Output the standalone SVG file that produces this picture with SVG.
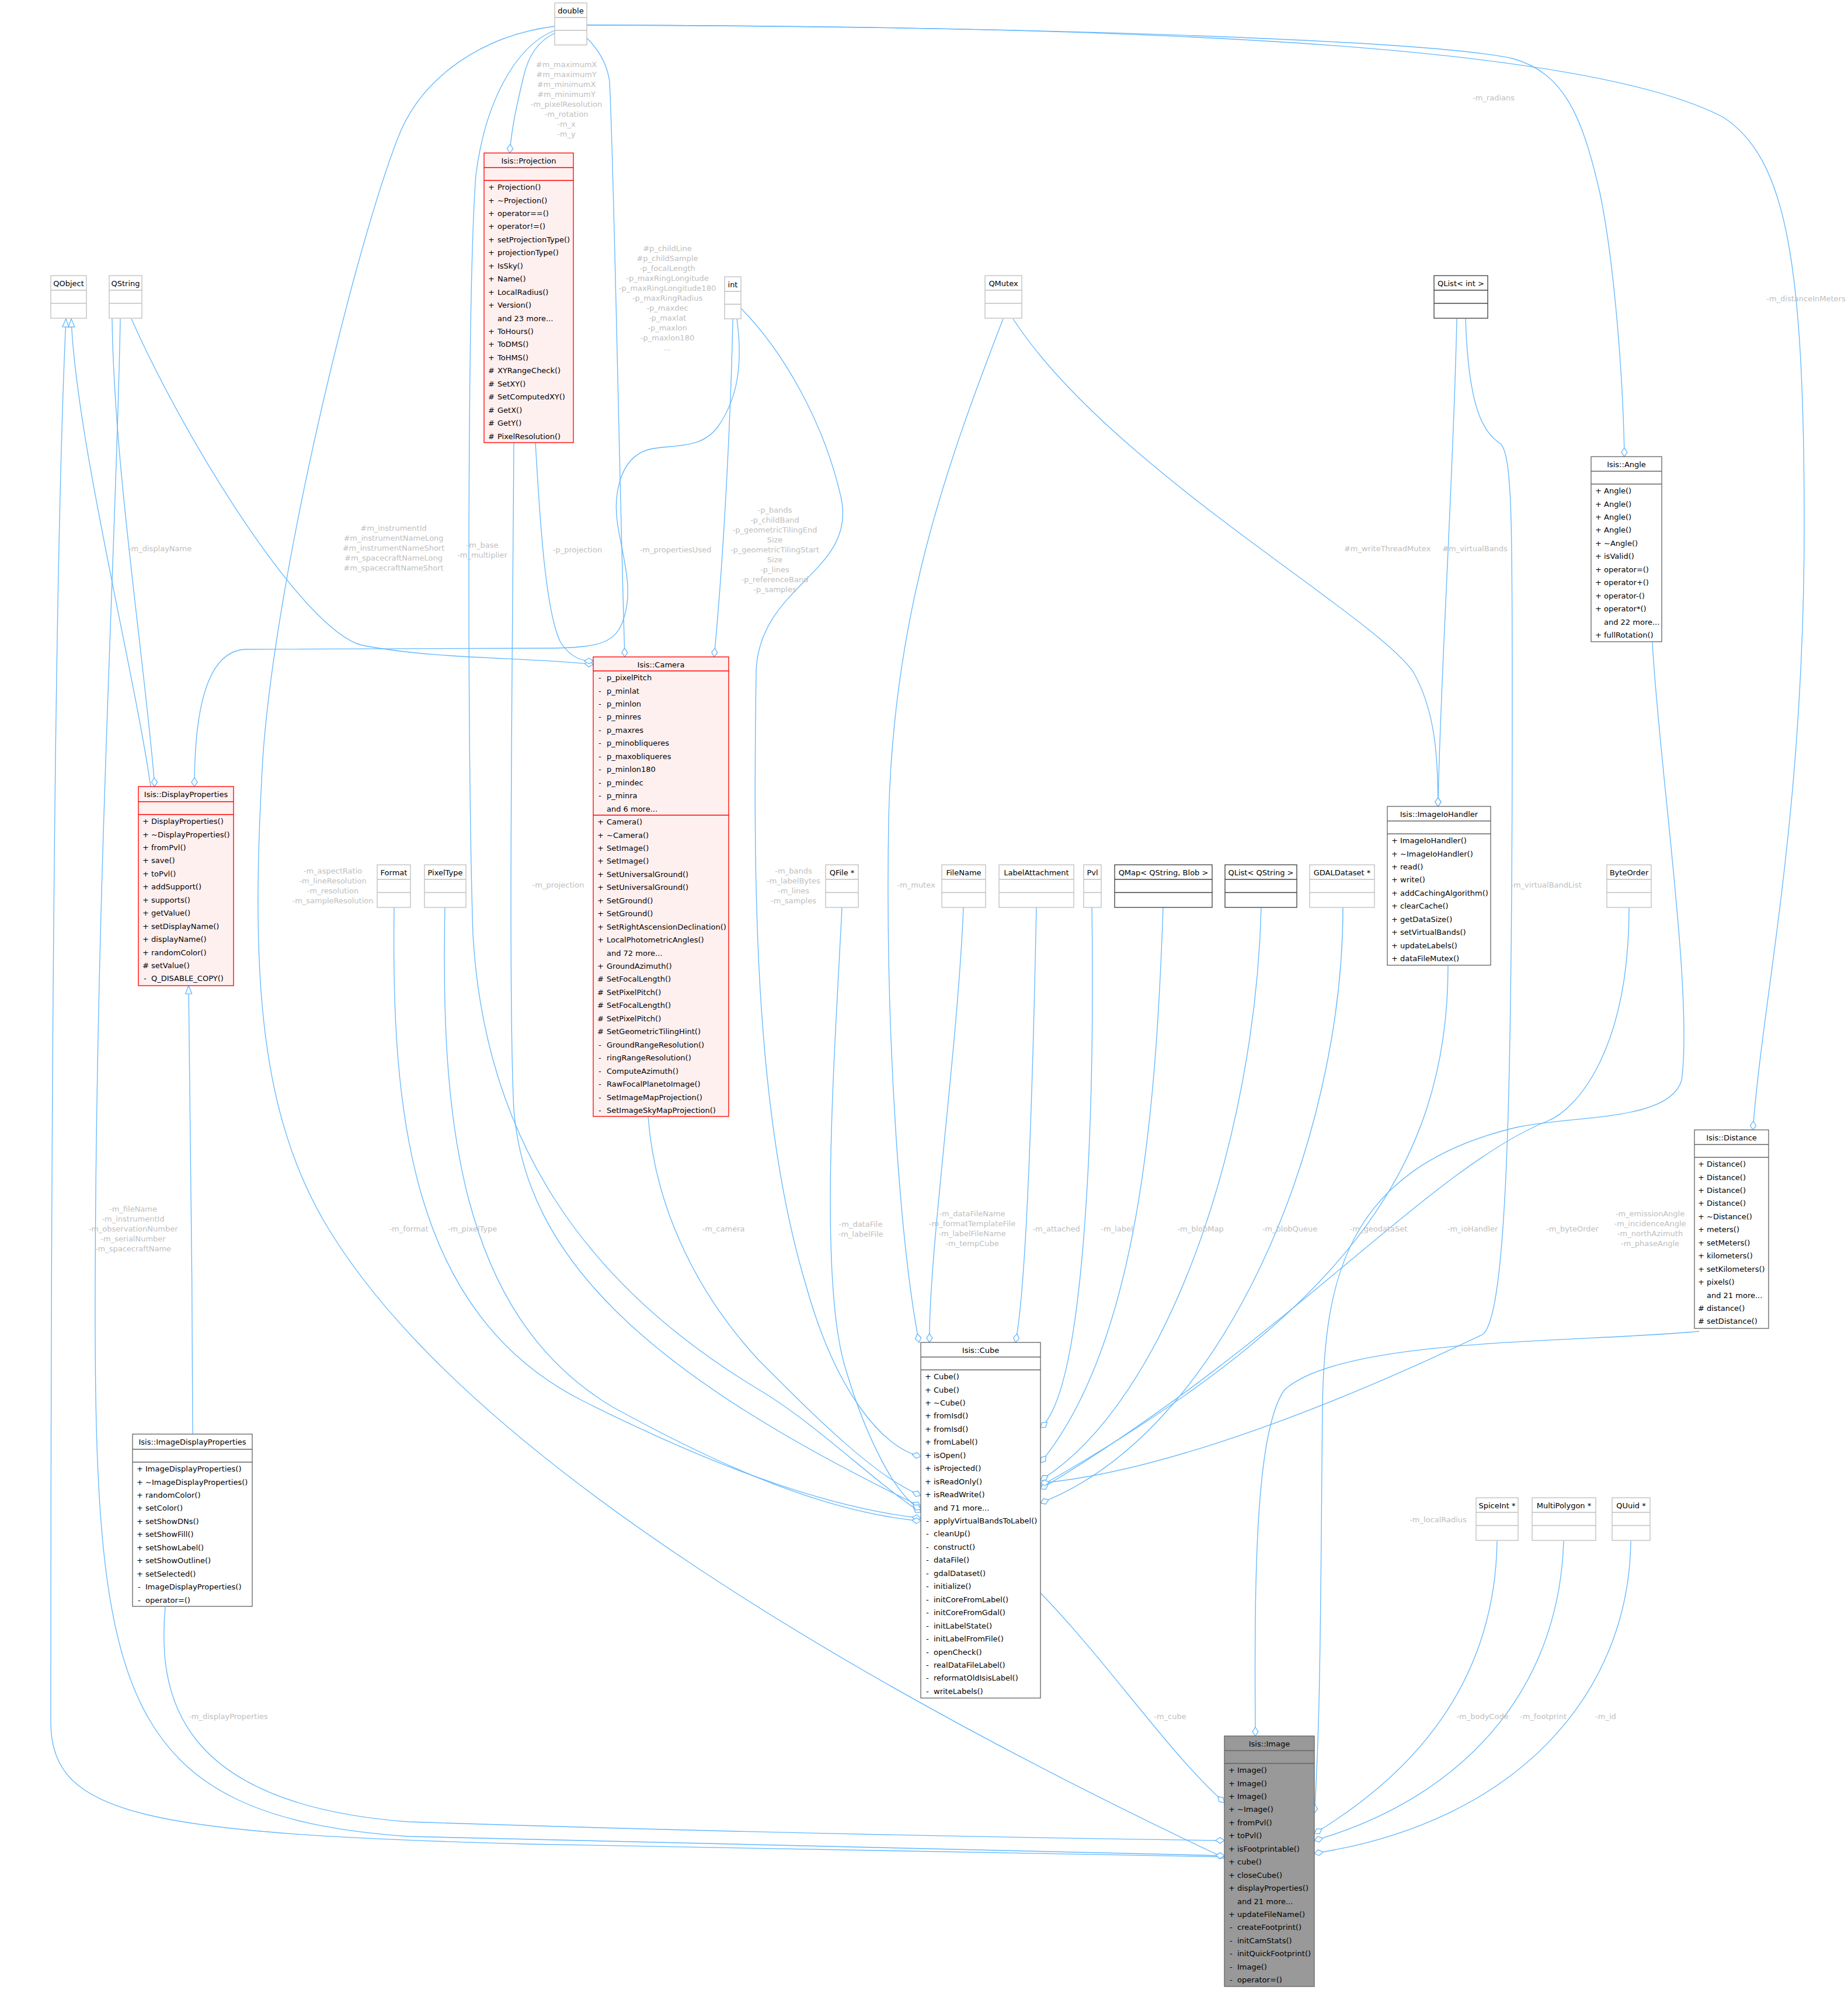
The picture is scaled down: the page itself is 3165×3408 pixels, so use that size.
<svg xmlns="http://www.w3.org/2000/svg" width="3165" height="3408" viewBox="0 0 3165 3408">
<style>
.t{font-family:"DejaVu Sans",Verdana,sans-serif;font-size:13px;fill:#000}
.h{text-anchor:middle}
.l{font-family:"DejaVu Sans",Verdana,sans-serif;font-size:13px;fill:#bebebe;text-anchor:middle}
.e{fill:none;stroke:#63b8ff;stroke-width:1.33}
.d{marker-end:url(#dm)}
.i{marker-start:url(#tr)}
.ext{fill:#fff;stroke:#bfbfbf;stroke-width:1.33}
.tpl{fill:#fff;stroke:#404040;stroke-width:1.33}
.doc{fill:#fff;stroke:#666;stroke-width:1.33}
.red{fill:#fff0f0;stroke:#f00;stroke-width:1.33}
.img{fill:#999;stroke:#666;stroke-width:1.33}
</style>
<defs>
<marker id="dm" markerUnits="userSpaceOnUse" markerWidth="17" markerHeight="13" viewBox="0 0 17 13" refX="16" refY="6.5" orient="auto"><path d="M1,6.5 L8.5,1.5 L16,6.5 L8.5,11.5 Z" fill="#fff" stroke="#63b8ff" stroke-width="1.33"/></marker>
<marker id="tr" markerUnits="userSpaceOnUse" markerWidth="16" markerHeight="14" viewBox="0 0 16 14" refX="15" refY="7" orient="auto-start-reverse"><path d="M1,1.5 L15,7 L1,12.5 Z" fill="#fff" stroke="#63b8ff" stroke-width="1.33"/></marker>
</defs>
<rect width="3165" height="3408" fill="#fff"/>

<g id="edges">
<path class="e d" d="M950,57 C922,70 905,95 897,130 C885,180 876,220 873,262"/>
<path class="e d" d="M1005,65 C1025,85 1040,110 1044,140 C1052,300 1060,800 1070,1125"/>
<path class="e d" d="M1005,43 C1800,45 2450,70 2590,100 C2680,125 2710,200 2740,330 C2765,450 2780,650 2782,782"/>
<path class="e d" d="M1005,43 C1900,45 2700,70 2950,200 C3060,270 3090,450 3090,900 C3090,1400 3020,1700 3002,1935"/>
<path class="e d" d="M950,45 C830,60 720,130 680,240 C600,450 470,1000 450,1300 C430,1650 440,1900 560,2100 C800,2500 1500,2900 2097,3182"/>
<path class="e d" d="M950,52 C880,80 830,180 815,300 C800,500 800,1300 810,1600 C830,1950 1000,2200 1300,2380 C1400,2440 1500,2540 1577,2590"/>
<path class="e i" d="M122,546 C130,750 230,1150 258,1347"/>
<path class="e i" d="M113,546 C92,1000 87,2000 87,2950 C87,3110 250,3140 900,3158 L2097,3180"/>
<path class="e d" d="M192,546 C195,800 250,1150 265,1347"/>
<path class="e d" d="M206,546 C200,900 165,1500 163,2200 C161,2900 200,3110 700,3145 L2097,3178"/>
<path class="e d" d="M225,546 C320,760 520,1080 620,1105 C750,1130 900,1125 1016,1138"/>
<path class="e d" d="M1255,546 C1252,700 1240,950 1223,1125"/>
<path class="e d" d="M1262,546 C1272,620 1265,680 1230,730 C1200,772 1150,760 1110,770 C1060,785 1050,850 1058,900 C1068,960 1085,1010 1068,1060 C1055,1100 1030,1108 950,1110 L420,1112 C360,1115 333,1200 333,1347"/>
<path class="e d" d="M1269,528 C1340,600 1410,720 1440,850 C1470,980 1300,1000 1295,1150 C1290,1500 1290,1900 1380,2200 C1430,2380 1510,2480 1577,2494"/>
<path class="e d" d="M917,758 C925,900 935,1050 960,1100 C980,1130 1000,1132 1016,1132"/>
<path class="e d" d="M880,758 C878,1100 870,1700 880,1900 C900,2150 1100,2350 1577,2580"/>
<path class="e d" d="M1110,1912 C1120,2050 1180,2200 1300,2330 C1400,2430 1500,2530 1577,2561"/>
<path class="e d" d="M675,1554 C670,1900 700,2250 1000,2400 C1200,2500 1400,2580 1577,2600"/>
<path class="e d" d="M762,1554 C755,1900 780,2250 1050,2410 C1250,2520 1420,2590 1577,2605"/>
<path class="e d" d="M1442,1554 C1430,1800 1400,2200 1450,2350 C1480,2450 1530,2560 1577,2585"/>
<path class="e d" d="M1718,546 C1620,800 1530,1050 1522,1400 C1515,1800 1545,2150 1574,2299"/>
<path class="e d" d="M1650,1554 C1640,1800 1590,2150 1592,2299"/>
<path class="e d" d="M1775,1554 C1770,1800 1760,2200 1739,2299"/>
<path class="e d" d="M1870,1554 C1875,1900 1860,2380 1782,2445"/>
<path class="e d" d="M1992,1554 C1980,1900 1950,2300 1782,2505"/>
<path class="e d" d="M2160,1554 C2150,1950 2000,2400 1782,2535"/>
<path class="e d" d="M2300,1554 C2300,1950 2100,2450 1782,2574"/>
<path class="e d" d="M2480,1654 C2480,2000 2300,2250 1782,2545"/>
<path class="e d" d="M2790,1554 C2790,1800 2700,1900 2650,1920 C2450,2000 2200,2300 1782,2550"/>
<path class="e d" d="M2510,546 C2515,700 2540,740 2570,760 C2590,780 2590,900 2590,1200 C2590,1900 2580,2250 2540,2285 C2300,2400 2000,2520 1782,2540"/>
<path class="e d" d="M2495,546 C2490,800 2465,1200 2463,1381"/>
<path class="e d" d="M1735,546 C1900,800 2350,1050 2420,1150 C2460,1220 2462,1300 2463,1381"/>
<path class="e i" d="M323,1688 C325,1900 330,2200 330,2456"/>
<path class="e d" d="M283,2752 C270,2900 300,3090 700,3120 C1300,3140 1800,3148 2097,3152"/>
<path class="e d" d="M1782,2728 C1900,2850 2000,3000 2097,3087"/>
<path class="e d" d="M2910,2280 C2700,2300 2300,2290 2200,2380 C2150,2450 2148,2700 2150,2973"/>
<path class="e d" d="M2830,1100 C2840,1300 2900,1700 2880,1850 C2860,1920 2700,1910 2600,1930 C2300,2000 2270,2200 2265,2400 C2262,2700 2262,2950 2251,3105"/>
<path class="e d" d="M2564,2639 C2560,2900 2400,3050 2251,3140"/>
<path class="e d" d="M2678,2639 C2670,2900 2500,3080 2251,3152"/>
<path class="e d" d="M2793,2639 C2790,2900 2600,3120 2251,3174"/>

<text class="l"><tspan x="970" y="115">#m_maximumX</tspan><tspan x="970" y="132">#m_maximumY</tspan><tspan x="970" y="149">#m_minimumX</tspan><tspan x="970" y="166">#m_minimumY</tspan><tspan x="970" y="183">-m_pixelResolution</tspan><tspan x="970" y="200">-m_rotation</tspan><tspan x="970" y="217">-m_x</tspan><tspan x="970" y="234">-m_y</tspan></text>
<text class="l"><tspan x="1143" y="430">#p_childLine</tspan><tspan x="1143" y="447">#p_childSample</tspan><tspan x="1143" y="464">-p_focalLength</tspan><tspan x="1143" y="481">-p_maxRingLongitude</tspan><tspan x="1143" y="498">-p_maxRingLongitude180</tspan><tspan x="1143" y="515">-p_maxRingRadius</tspan><tspan x="1143" y="532">-p_maxdec</tspan><tspan x="1143" y="549">-p_maxlat</tspan><tspan x="1143" y="566">-p_maxlon</tspan><tspan x="1143" y="583">-p_maxlon180</tspan><tspan x="1143" y="600">...</tspan></text>
<text class="l"><tspan x="1327" y="878">-p_bands</tspan><tspan x="1327" y="895">-p_childBand</tspan><tspan x="1327" y="912">-p_geometricTilingEnd</tspan><tspan x="1327" y="929">Size</tspan><tspan x="1327" y="946">-p_geometricTilingStart</tspan><tspan x="1327" y="963">Size</tspan><tspan x="1327" y="980">-p_lines</tspan><tspan x="1327" y="997">-p_referenceBand</tspan><tspan x="1327" y="1014">-p_samples</tspan></text>
<text class="l" x="1157" y="946">-m_propertiesUsed</text>
<text class="l" x="989" y="946">-p_projection</text>
<text class="l"><tspan x="826" y="938">-m_base</tspan><tspan x="826" y="955">-m_multiplier</tspan></text>
<text class="l"><tspan x="674" y="909">#m_instrumentId</tspan><tspan x="674" y="926">#m_instrumentNameLong</tspan><tspan x="674" y="943">#m_instrumentNameShort</tspan><tspan x="674" y="960">#m_spacecraftNameLong</tspan><tspan x="674" y="977">#m_spacecraftNameShort</tspan></text>
<text class="l" x="274" y="944">-m_displayName</text>
<text class="l" x="2376" y="944">#m_writeThreadMutex</text>
<text class="l" x="2526" y="944">#m_virtualBands</text>
<text class="l" x="2558" y="172">-m_radians</text>
<text class="l" x="3093" y="516">-m_distanceInMeters</text>
<text class="l"><tspan x="570" y="1496">-m_aspectRatio</tspan><tspan x="570" y="1513">-m_lineResolution</tspan><tspan x="570" y="1530">-m_resolution</tspan><tspan x="570" y="1547">-m_sampleResolution</tspan></text>
<text class="l" x="956" y="1520">-m_projection</text>
<text class="l"><tspan x="1359" y="1496">-m_bands</tspan><tspan x="1359" y="1513">-m_labelBytes</tspan><tspan x="1359" y="1530">-m_lines</tspan><tspan x="1359" y="1547">-m_samples</tspan></text>
<text class="l" x="1569" y="1520">-m_mutex</text>
<text class="l" x="2648" y="1520">-m_virtualBandList</text>
<text class="l"><tspan x="228" y="2075">-m_fileName</tspan><tspan x="228" y="2092">-m_instrumentId</tspan><tspan x="228" y="2109">-m_observationNumber</tspan><tspan x="228" y="2126">-m_serialNumber</tspan><tspan x="228" y="2143">-m_spacecraftName</tspan></text>
<text class="l" x="700" y="2109">-m_format</text>
<text class="l" x="809" y="2109">-m_pixelType</text>
<text class="l" x="1239" y="2109">-m_camera</text>
<text class="l"><tspan x="1474" y="2101">-m_dataFile</tspan><tspan x="1474" y="2118">-m_labelFile</tspan></text>
<text class="l"><tspan x="1665" y="2083">-m_dataFileName</tspan><tspan x="1665" y="2100">-m_formatTemplateFile</tspan><tspan x="1665" y="2117">-m_labelFileName</tspan><tspan x="1665" y="2134">-m_tempCube</tspan></text>
<text class="l" x="1809" y="2109">-m_attached</text>
<text class="l" x="1913" y="2109">-m_label</text>
<text class="l" x="2056" y="2109">-m_blobMap</text>
<text class="l" x="2209" y="2109">-m_blobQueue</text>
<text class="l" x="2361" y="2109">-m_geodataSet</text>
<text class="l" x="2522" y="2109">-m_ioHandler</text>
<text class="l" x="2693" y="2109">-m_byteOrder</text>
<text class="l"><tspan x="2826" y="2083">-m_emissionAngle</tspan><tspan x="2826" y="2100">-m_incidenceAngle</tspan><tspan x="2826" y="2117">-m_northAzimuth</tspan><tspan x="2826" y="2134">-m_phaseAngle</tspan></text>
<text class="l" x="2463" y="2607">-m_localRadius</text>
<text class="l" x="391" y="2944">-m_displayProperties</text>
<text class="l" x="2004" y="2944">-m_cube</text>
<text class="l" x="2539" y="2944">-m_bodyCode</text>
<text class="l" x="2643" y="2944">-m_footprint</text>
<text class="l" x="2750" y="2944">-m_id</text>
</g>

<g id="double"><rect class="ext" x="950" y="5" width="55" height="72"/><path class="ext" d="M950,30H1005M950,52H1005"/><text class="t h" x="977.5" y="23">double</text></g>
<g id="QObject"><rect class="ext" x="87" y="472" width="61" height="73"/><path class="ext" d="M87,497H148M87,519.5H148"/><text class="t h" x="117.5" y="490">QObject</text></g>
<g id="QString"><rect class="ext" x="187" y="472" width="56" height="73"/><path class="ext" d="M187,497H243M187,519.5H243"/><text class="t h" x="215" y="490">QString</text></g>
<g id="int"><rect class="ext" x="1241" y="474" width="28" height="72"/><path class="ext" d="M1241,499H1269M1241,521H1269"/><text class="t h" x="1255" y="492">int</text></g>
<g id="QMutex"><rect class="ext" x="1687" y="472" width="63" height="73"/><path class="ext" d="M1687,497H1750M1687,519.5H1750"/><text class="t h" x="1718.5" y="490">QMutex</text></g>
<g id="QListInt"><rect class="tpl" x="2456" y="472" width="92" height="73"/><path class="tpl" d="M2456,497H2548M2456,519.5H2548"/><text class="t h" x="2502" y="490">QList&lt; int &gt;</text></g>

<g id="Format"><rect class="ext" x="646" y="1481" width="57" height="73"/><path class="ext" d="M646,1506H703M646,1528.5H703"/><text class="t h" x="674.5" y="1499">Format</text></g>
<g id="PixelType"><rect class="ext" x="727" y="1481" width="71" height="73"/><path class="ext" d="M727,1506H798M727,1528.5H798"/><text class="t h" x="762.5" y="1499">PixelType</text></g>
<g id="QFile"><rect class="ext" x="1414" y="1481" width="56" height="73"/><path class="ext" d="M1414,1506H1470M1414,1528.5H1470"/><text class="t h" x="1442" y="1499">QFile *</text></g>
<g id="FileName"><rect class="ext" x="1613" y="1481" width="75" height="73"/><path class="ext" d="M1613,1506H1688M1613,1528.5H1688"/><text class="t h" x="1650.5" y="1499">FileName</text></g>
<g id="LabelAttachment"><rect class="ext" x="1711" y="1481" width="128" height="73"/><path class="ext" d="M1711,1506H1839M1711,1528.5H1839"/><text class="t h" x="1775" y="1499">LabelAttachment</text></g>
<g id="Pvl"><rect class="ext" x="1856" y="1481" width="30" height="73"/><path class="ext" d="M1856,1506H1886M1856,1528.5H1886"/><text class="t h" x="1871" y="1499">Pvl</text></g>
<g id="QMap"><rect class="tpl" x="1909" y="1481" width="167" height="73"/><path class="tpl" d="M1909,1506H2076M1909,1528.5H2076"/><text class="t h" x="1992.5" y="1499">QMap&lt; QString, Blob &gt;</text></g>
<g id="QListQString"><rect class="tpl" x="2098" y="1481" width="123" height="73"/><path class="tpl" d="M2098,1506H2221M2098,1528.5H2221"/><text class="t h" x="2159.5" y="1499">QList&lt; QString &gt;</text></g>
<g id="GDALDataset"><rect class="ext" x="2243" y="1481" width="111" height="73"/><path class="ext" d="M2243,1506H2354M2243,1528.5H2354"/><text class="t h" x="2298.5" y="1499">GDALDataset *</text></g>
<g id="ByteOrder"><rect class="ext" x="2752" y="1481" width="76" height="73"/><path class="ext" d="M2752,1506H2828M2752,1528.5H2828"/><text class="t h" x="2790" y="1499">ByteOrder</text></g>
<g id="SpiceInt"><rect class="ext" x="2528" y="2565" width="72" height="73"/><path class="ext" d="M2528,2590H2600M2528,2612.5H2600"/><text class="t h" x="2564" y="2583">SpiceInt *</text></g>
<g id="MultiPolygon"><rect class="ext" x="2624" y="2565" width="109" height="73"/><path class="ext" d="M2624,2590H2733M2624,2612.5H2733"/><text class="t h" x="2678.5" y="2583">MultiPolygon *</text></g>
<g id="QUuid"><rect class="ext" x="2761" y="2565" width="65" height="73"/><path class="ext" d="M2761,2590H2826M2761,2612.5H2826"/><text class="t h" x="2793.5" y="2583">QUuid *</text></g>

<g id="Projection"><rect class="red" x="829" y="262" width="153" height="496"/><path class="red" d="M829,287H982M829,309H982"/><text class="t h" x="905.5" y="280">Isis::Projection</text>
<text class="t"><tspan x="836" y="325">+</tspan><tspan x="836" y="347.5">+</tspan><tspan x="836" y="369.9">+</tspan><tspan x="836" y="392.4">+</tspan><tspan x="836" y="414.8">+</tspan><tspan x="836" y="437.3">+</tspan><tspan x="836" y="459.7">+</tspan><tspan x="836" y="482.2">+</tspan><tspan x="836" y="504.6">+</tspan><tspan x="836" y="527.1">+</tspan><tspan x="836" y="572">+</tspan><tspan x="836" y="594.4">+</tspan><tspan x="836" y="616.9">+</tspan><tspan x="836" y="639.3">#</tspan><tspan x="836" y="661.8">#</tspan><tspan x="836" y="684.2">#</tspan><tspan x="836" y="706.7">#</tspan><tspan x="836" y="729.1">#</tspan><tspan x="836" y="751.6">#</tspan></text>
<text class="t"><tspan x="852" y="325">Projection()</tspan><tspan x="852" y="347.5">~Projection()</tspan><tspan x="852" y="369.9">operator==()</tspan><tspan x="852" y="392.4">operator!=()</tspan><tspan x="852" y="414.8">setProjectionType()</tspan><tspan x="852" y="437.3">projectionType()</tspan><tspan x="852" y="459.7">IsSky()</tspan><tspan x="852" y="482.2">Name()</tspan><tspan x="852" y="504.6">LocalRadius()</tspan><tspan x="852" y="527.1">Version()</tspan><tspan x="852" y="549.5">and 23 more...</tspan><tspan x="852" y="572">ToHours()</tspan><tspan x="852" y="594.4">ToDMS()</tspan><tspan x="852" y="616.9">ToHMS()</tspan><tspan x="852" y="639.3">XYRangeCheck()</tspan><tspan x="852" y="661.8">SetXY()</tspan><tspan x="852" y="684.2">SetComputedXY()</tspan><tspan x="852" y="706.7">GetX()</tspan><tspan x="852" y="729.1">GetY()</tspan><tspan x="852" y="751.6">PixelResolution()</tspan></text></g>

<g id="Camera"><rect class="red" x="1016" y="1125" width="232" height="787"/><path class="red" d="M1016,1149H1248M1016,1396H1248"/><text class="t h" x="1132" y="1143">Isis::Camera</text>
<text class="t"><tspan x="1025" y="1165">-</tspan><tspan x="1025" y="1187.5">-</tspan><tspan x="1025" y="1209.9">-</tspan><tspan x="1025" y="1232.4">-</tspan><tspan x="1025" y="1254.8">-</tspan><tspan x="1025" y="1277.3">-</tspan><tspan x="1025" y="1299.7">-</tspan><tspan x="1025" y="1322.2">-</tspan><tspan x="1025" y="1344.6">-</tspan><tspan x="1025" y="1367.1">-</tspan></text>
<text class="t"><tspan x="1039" y="1165">p_pixelPitch</tspan><tspan x="1039" y="1187.5">p_minlat</tspan><tspan x="1039" y="1209.9">p_minlon</tspan><tspan x="1039" y="1232.4">p_minres</tspan><tspan x="1039" y="1254.8">p_maxres</tspan><tspan x="1039" y="1277.3">p_minobliqueres</tspan><tspan x="1039" y="1299.7">p_maxobliqueres</tspan><tspan x="1039" y="1322.2">p_minlon180</tspan><tspan x="1039" y="1344.6">p_mindec</tspan><tspan x="1039" y="1367.1">p_minra</tspan><tspan x="1039" y="1389.5">and 6 more...</tspan></text>
<text class="t"><tspan x="1023" y="1412">+</tspan><tspan x="1023" y="1434.5">+</tspan><tspan x="1023" y="1456.9">+</tspan><tspan x="1023" y="1479.4">+</tspan><tspan x="1023" y="1501.8">+</tspan><tspan x="1023" y="1524.3">+</tspan><tspan x="1023" y="1546.7">+</tspan><tspan x="1023" y="1569.2">+</tspan><tspan x="1023" y="1591.6">+</tspan><tspan x="1023" y="1614.1">+</tspan><tspan x="1023" y="1659">+</tspan><tspan x="1023" y="1681.4">#</tspan><tspan x="1023" y="1703.9">#</tspan><tspan x="1023" y="1726.3">#</tspan><tspan x="1023" y="1748.8">#</tspan><tspan x="1023" y="1771.2">#</tspan><tspan x="1025" y="1793.7">-</tspan><tspan x="1025" y="1816.1">-</tspan><tspan x="1025" y="1838.6">-</tspan><tspan x="1025" y="1861">-</tspan><tspan x="1025" y="1883.5">-</tspan><tspan x="1025" y="1905.9">-</tspan></text>
<text class="t"><tspan x="1039" y="1412">Camera()</tspan><tspan x="1039" y="1434.5">~Camera()</tspan><tspan x="1039" y="1456.9">SetImage()</tspan><tspan x="1039" y="1479.4">SetImage()</tspan><tspan x="1039" y="1501.8">SetUniversalGround()</tspan><tspan x="1039" y="1524.3">SetUniversalGround()</tspan><tspan x="1039" y="1546.7">SetGround()</tspan><tspan x="1039" y="1569.2">SetGround()</tspan><tspan x="1039" y="1591.6">SetRightAscensionDeclination()</tspan><tspan x="1039" y="1614.1">LocalPhotometricAngles()</tspan><tspan x="1039" y="1636.5">and 72 more...</tspan><tspan x="1039" y="1659">GroundAzimuth()</tspan><tspan x="1039" y="1681.4">SetFocalLength()</tspan><tspan x="1039" y="1703.9">SetPixelPitch()</tspan><tspan x="1039" y="1726.3">SetFocalLength()</tspan><tspan x="1039" y="1748.8">SetPixelPitch()</tspan><tspan x="1039" y="1771.2">SetGeometricTilingHint()</tspan><tspan x="1039" y="1793.7">GroundRangeResolution()</tspan><tspan x="1039" y="1816.1">ringRangeResolution()</tspan><tspan x="1039" y="1838.6">ComputeAzimuth()</tspan><tspan x="1039" y="1861">RawFocalPlanetoImage()</tspan><tspan x="1039" y="1883.5">SetImageMapProjection()</tspan><tspan x="1039" y="1905.9">SetImageSkyMapProjection()</tspan></text></g>

<g id="DisplayProperties"><rect class="red" x="237" y="1347" width="163" height="341"/><path class="red" d="M237,1373H400M237,1395H400"/><text class="t h" x="318.5" y="1365">Isis::DisplayProperties</text>
<text class="t"><tspan x="244" y="1411">+</tspan><tspan x="244" y="1433.5">+</tspan><tspan x="244" y="1455.9">+</tspan><tspan x="244" y="1478.4">+</tspan><tspan x="244" y="1500.8">+</tspan><tspan x="244" y="1523.3">+</tspan><tspan x="244" y="1545.7">+</tspan><tspan x="244" y="1568.2">+</tspan><tspan x="244" y="1590.6">+</tspan><tspan x="244" y="1613.1">+</tspan><tspan x="244" y="1635.5">+</tspan><tspan x="244" y="1658">#</tspan><tspan x="246" y="1680.4">-</tspan></text>
<text class="t"><tspan x="259" y="1411">DisplayProperties()</tspan><tspan x="259" y="1433.5">~DisplayProperties()</tspan><tspan x="259" y="1455.9">fromPvl()</tspan><tspan x="259" y="1478.4">save()</tspan><tspan x="259" y="1500.8">toPvl()</tspan><tspan x="259" y="1523.3">addSupport()</tspan><tspan x="259" y="1545.7">supports()</tspan><tspan x="259" y="1568.2">getValue()</tspan><tspan x="259" y="1590.6">setDisplayName()</tspan><tspan x="259" y="1613.1">displayName()</tspan><tspan x="259" y="1635.5">randomColor()</tspan><tspan x="259" y="1658">setValue()</tspan><tspan x="259" y="1680.4">Q_DISABLE_COPY()</tspan></text></g>

<g id="Angle"><rect class="doc" x="2725" y="782" width="121" height="317"/><path class="doc" d="M2725,807H2846M2725,829H2846"/><text class="t h" x="2785.5" y="800">Isis::Angle</text>
<text class="t"><tspan x="2732" y="845">+</tspan><tspan x="2732" y="867.5">+</tspan><tspan x="2732" y="889.9">+</tspan><tspan x="2732" y="912.4">+</tspan><tspan x="2732" y="934.8">+</tspan><tspan x="2732" y="957.3">+</tspan><tspan x="2732" y="979.7">+</tspan><tspan x="2732" y="1002.2">+</tspan><tspan x="2732" y="1024.6">+</tspan><tspan x="2732" y="1047.1">+</tspan><tspan x="2732" y="1092">+</tspan></text>
<text class="t"><tspan x="2747" y="845">Angle()</tspan><tspan x="2747" y="867.5">Angle()</tspan><tspan x="2747" y="889.9">Angle()</tspan><tspan x="2747" y="912.4">Angle()</tspan><tspan x="2747" y="934.8">~Angle()</tspan><tspan x="2747" y="957.3">isValid()</tspan><tspan x="2747" y="979.7">operator=()</tspan><tspan x="2747" y="1002.2">operator+()</tspan><tspan x="2747" y="1024.6">operator-()</tspan><tspan x="2747" y="1047.1">operator*()</tspan><tspan x="2747" y="1069.5">and 22 more...</tspan><tspan x="2747" y="1092">fullRotation()</tspan></text></g>

<g id="ImageIoHandler"><rect class="doc" x="2376" y="1381" width="177" height="272"/><path class="doc" d="M2376,1406H2553M2376,1428H2553"/><text class="t h" x="2464.5" y="1399">Isis::ImageIoHandler</text>
<text class="t"><tspan x="2383" y="1444">+</tspan><tspan x="2383" y="1466.5">+</tspan><tspan x="2383" y="1488.9">+</tspan><tspan x="2383" y="1511.4">+</tspan><tspan x="2383" y="1533.8">+</tspan><tspan x="2383" y="1556.3">+</tspan><tspan x="2383" y="1578.7">+</tspan><tspan x="2383" y="1601.2">+</tspan><tspan x="2383" y="1623.6">+</tspan><tspan x="2383" y="1646.1">+</tspan></text>
<text class="t"><tspan x="2398" y="1444">ImageIoHandler()</tspan><tspan x="2398" y="1466.5">~ImageIoHandler()</tspan><tspan x="2398" y="1488.9">read()</tspan><tspan x="2398" y="1511.4">write()</tspan><tspan x="2398" y="1533.8">addCachingAlgorithm()</tspan><tspan x="2398" y="1556.3">clearCache()</tspan><tspan x="2398" y="1578.7">getDataSize()</tspan><tspan x="2398" y="1601.2">setVirtualBands()</tspan><tspan x="2398" y="1623.6">updateLabels()</tspan><tspan x="2398" y="1646.1">dataFileMutex()</tspan></text></g>

<g id="Distance"><rect class="doc" x="2902" y="1935" width="127" height="340"/><path class="doc" d="M2902,1960H3029M2902,1982H3029"/><text class="t h" x="2965.5" y="1953">Isis::Distance</text>
<text class="t"><tspan x="2908" y="1998">+</tspan><tspan x="2908" y="2020.5">+</tspan><tspan x="2908" y="2042.9">+</tspan><tspan x="2908" y="2065.4">+</tspan><tspan x="2908" y="2087.8">+</tspan><tspan x="2908" y="2110.3">+</tspan><tspan x="2908" y="2132.7">+</tspan><tspan x="2908" y="2155.2">+</tspan><tspan x="2908" y="2177.6">+</tspan><tspan x="2908" y="2200.1">+</tspan><tspan x="2908" y="2245">#</tspan><tspan x="2908" y="2267.4">#</tspan></text>
<text class="t"><tspan x="2923" y="1998">Distance()</tspan><tspan x="2923" y="2020.5">Distance()</tspan><tspan x="2923" y="2042.9">Distance()</tspan><tspan x="2923" y="2065.4">Distance()</tspan><tspan x="2923" y="2087.8">~Distance()</tspan><tspan x="2923" y="2110.3">meters()</tspan><tspan x="2923" y="2132.7">setMeters()</tspan><tspan x="2923" y="2155.2">kilometers()</tspan><tspan x="2923" y="2177.6">setKilometers()</tspan><tspan x="2923" y="2200.1">pixels()</tspan><tspan x="2923" y="2222.5">and 21 more...</tspan><tspan x="2923" y="2245">distance()</tspan><tspan x="2923" y="2267.4">setDistance()</tspan></text></g>

<g id="Cube"><rect class="doc" x="1577" y="2299" width="205" height="609"/><path class="doc" d="M1577,2324H1782M1577,2346H1782"/><text class="t h" x="1679.5" y="2317">Isis::Cube</text>
<text class="t"><tspan x="1584" y="2362">+</tspan><tspan x="1584" y="2384.5">+</tspan><tspan x="1584" y="2406.9">+</tspan><tspan x="1584" y="2429.4">+</tspan><tspan x="1584" y="2451.8">+</tspan><tspan x="1584" y="2474.3">+</tspan><tspan x="1584" y="2496.7">+</tspan><tspan x="1584" y="2519.2">+</tspan><tspan x="1584" y="2541.6">+</tspan><tspan x="1584" y="2564.1">+</tspan><tspan x="1586" y="2609">-</tspan><tspan x="1586" y="2631.4">-</tspan><tspan x="1586" y="2653.9">-</tspan><tspan x="1586" y="2676.3">-</tspan><tspan x="1586" y="2698.8">-</tspan><tspan x="1586" y="2721.2">-</tspan><tspan x="1586" y="2743.7">-</tspan><tspan x="1586" y="2766.1">-</tspan><tspan x="1586" y="2788.6">-</tspan><tspan x="1586" y="2811">-</tspan><tspan x="1586" y="2833.5">-</tspan><tspan x="1586" y="2855.9">-</tspan><tspan x="1586" y="2878.4">-</tspan><tspan x="1586" y="2900.8">-</tspan></text>
<text class="t"><tspan x="1599" y="2362">Cube()</tspan><tspan x="1599" y="2384.5">Cube()</tspan><tspan x="1599" y="2406.9">~Cube()</tspan><tspan x="1599" y="2429.4">fromIsd()</tspan><tspan x="1599" y="2451.8">fromIsd()</tspan><tspan x="1599" y="2474.3">fromLabel()</tspan><tspan x="1599" y="2496.7">isOpen()</tspan><tspan x="1599" y="2519.2">isProjected()</tspan><tspan x="1599" y="2541.6">isReadOnly()</tspan><tspan x="1599" y="2564.1">isReadWrite()</tspan><tspan x="1599" y="2586.5">and 71 more...</tspan><tspan x="1599" y="2609">applyVirtualBandsToLabel()</tspan><tspan x="1599" y="2631.4">cleanUp()</tspan><tspan x="1599" y="2653.9">construct()</tspan><tspan x="1599" y="2676.3">dataFile()</tspan><tspan x="1599" y="2698.8">gdalDataset()</tspan><tspan x="1599" y="2721.2">initialize()</tspan><tspan x="1599" y="2743.7">initCoreFromLabel()</tspan><tspan x="1599" y="2766.1">initCoreFromGdal()</tspan><tspan x="1599" y="2788.6">initLabelState()</tspan><tspan x="1599" y="2811">initLabelFromFile()</tspan><tspan x="1599" y="2833.5">openCheck()</tspan><tspan x="1599" y="2855.9">realDataFileLabel()</tspan><tspan x="1599" y="2878.4">reformatOldIsisLabel()</tspan><tspan x="1599" y="2900.8">writeLabels()</tspan></text></g>

<g id="ImageDisplayProperties"><rect class="doc" x="227" y="2456" width="205" height="295"/><path class="doc" d="M227,2482H432M227,2504H432"/><text class="t h" x="329.5" y="2474">Isis::ImageDisplayProperties</text>
<text class="t"><tspan x="234" y="2520">+</tspan><tspan x="234" y="2542.5">+</tspan><tspan x="234" y="2564.9">+</tspan><tspan x="234" y="2587.4">+</tspan><tspan x="234" y="2609.8">+</tspan><tspan x="234" y="2632.3">+</tspan><tspan x="234" y="2654.7">+</tspan><tspan x="234" y="2677.2">+</tspan><tspan x="234" y="2699.6">+</tspan><tspan x="236" y="2722.1">-</tspan><tspan x="236" y="2744.5">-</tspan></text>
<text class="t"><tspan x="249" y="2520">ImageDisplayProperties()</tspan><tspan x="249" y="2542.5">~ImageDisplayProperties()</tspan><tspan x="249" y="2564.9">randomColor()</tspan><tspan x="249" y="2587.4">setColor()</tspan><tspan x="249" y="2609.8">setShowDNs()</tspan><tspan x="249" y="2632.3">setShowFill()</tspan><tspan x="249" y="2654.7">setShowLabel()</tspan><tspan x="249" y="2677.2">setShowOutline()</tspan><tspan x="249" y="2699.6">setSelected()</tspan><tspan x="249" y="2722.1">ImageDisplayProperties()</tspan><tspan x="249" y="2744.5">operator=()</tspan></text></g>

<g id="Image"><rect class="img" x="2097" y="2973" width="154" height="429"/><path class="img" d="M2097,2998H2251M2097,3020H2251"/><text class="t h" x="2174" y="2991">Isis::Image</text>
<text class="t"><tspan x="2104" y="3036">+</tspan><tspan x="2104" y="3058.5">+</tspan><tspan x="2104" y="3080.9">+</tspan><tspan x="2104" y="3103.4">+</tspan><tspan x="2104" y="3125.8">+</tspan><tspan x="2104" y="3148.3">+</tspan><tspan x="2104" y="3170.7">+</tspan><tspan x="2104" y="3193.2">+</tspan><tspan x="2104" y="3215.6">+</tspan><tspan x="2104" y="3238.1">+</tspan><tspan x="2104" y="3283">+</tspan><tspan x="2106" y="3305.4">-</tspan><tspan x="2106" y="3327.9">-</tspan><tspan x="2106" y="3350.3">-</tspan><tspan x="2106" y="3372.8">-</tspan><tspan x="2106" y="3395.2">-</tspan></text>
<text class="t"><tspan x="2119" y="3036">Image()</tspan><tspan x="2119" y="3058.5">Image()</tspan><tspan x="2119" y="3080.9">Image()</tspan><tspan x="2119" y="3103.4">~Image()</tspan><tspan x="2119" y="3125.8">fromPvl()</tspan><tspan x="2119" y="3148.3">toPvl()</tspan><tspan x="2119" y="3170.7">isFootprintable()</tspan><tspan x="2119" y="3193.2">cube()</tspan><tspan x="2119" y="3215.6">closeCube()</tspan><tspan x="2119" y="3238.1">displayProperties()</tspan><tspan x="2119" y="3260.5">and 21 more...</tspan><tspan x="2119" y="3283">updateFileName()</tspan><tspan x="2119" y="3305.4">createFootprint()</tspan><tspan x="2119" y="3327.9">initCamStats()</tspan><tspan x="2119" y="3350.3">initQuickFootprint()</tspan><tspan x="2119" y="3372.8">Image()</tspan><tspan x="2119" y="3395.2">operator=()</tspan></text></g>
</svg>
